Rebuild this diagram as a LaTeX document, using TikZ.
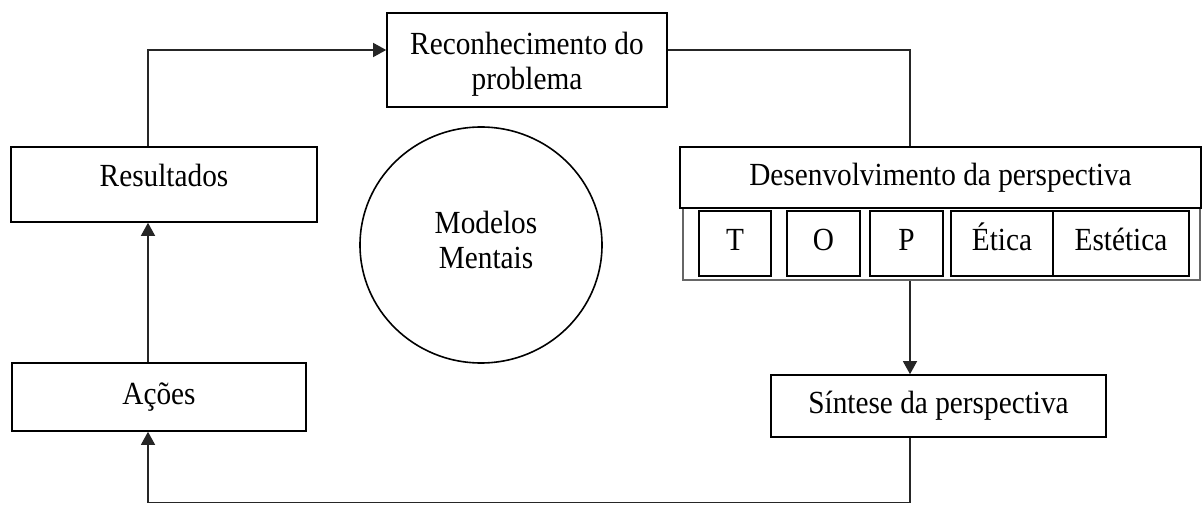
\documentclass[tikz,border=0pt]{standalone}
\usepackage{fontspec}
\setmainfont{Liberation Serif}
\usetikzlibrary{arrows.meta,shapes.geometric}
\newcommand\tx[1]{\scalebox{1}[1.1]{#1}}
\begin{document}
\begin{tikzpicture}[x=1pt,y=-1pt,
  every node/.style={font=\fontsize{29.3}{35}\selectfont, inner sep=0pt},
  box/.style={draw=black, line width=1.6pt, rectangle, align=center},
  subbox/.style={draw=black, line width=1.6pt, rectangle, minimum height=65pt, text height=21pt, text depth=7pt},
  ln/.style={draw=black!85, line width=1.3pt},
  arr/.style={ln, -{Triangle[length=13pt,width=14pt]}}]
\useasboundingbox (0,0) rectangle (1203,505);
% named reference coordinates for the connector tracks
\coordinate (lx) at (148,0);
\coordinate (rx) at (910,0);
\coordinate (ty) at (0,50);
\coordinate (by) at (0,502.5);
% boxes
\node[box, minimum width=280pt, minimum height=94pt] (reco) at (527,60) {};
\node[align=center] (recolbl) at (527,64) {\tx{Reconhecimento do}\\[0pt]\tx{problema}};
\node[box, minimum width=306pt, minimum height=75pt] (res) at (164,184.5) {};
\node (reslbl) at (164,175) {\tx{Resultados}};
\node[box, minimum width=294pt, minimum height=68pt, text height=21pt, text depth=7pt] (acoes) at (159,397) {\tx{Ações}};
\node[draw=black, line width=1.6pt, ellipse, minimum width=242pt, minimum height=236pt] (mm) at (481,245) {};
\node[align=center] (mmlbl) at (486,240) {\tx{Modelos}\\[0pt]\tx{Mentais}};
\node[draw=black!60, line width=2pt, rectangle, minimum width=517pt, minimum height=72pt] (frame) at (941.5,244) {};
\node[box, minimum width=521pt, minimum height=61pt] (desenv) at (940.5,177.5) {\tx{Desenvolvimento da perspectiva}};
\node[subbox, minimum width=72pt] (t) at (735,243.5) {\tx{T}};
\node[subbox, minimum width=73pt] (o) at (823.5,243.5) {\tx{O}};
\node[subbox, minimum width=73pt] (p) at (906.5,243.5) {\tx{P}};
\node[subbox, minimum width=102pt] (etica) at (1002,243.5) {\tx{Ética}};
\node[subbox, minimum width=136pt] (estetica) at (1121,243.5) {\tx{Estética}};
\node[box, minimum width=335pt, minimum height=62pt, text height=21pt, text depth=7pt] (sint) at (938.5,406) {\tx{Síntese da perspectiva}};
% connectors
\draw[arr] (lx |- res.north) |- (reco.west |- ty);
\draw[ln] (reco.east |- ty) -| (rx |- desenv.north);
\draw[arr] (rx |- frame.south) -- (rx |- sint.north);
\draw[arr] (rx |- sint.south) -- (rx |- by) -| (lx |- acoes.south);
\draw[arr] (lx |- acoes.north) -- (lx |- res.south);
\end{tikzpicture}
\end{document}
